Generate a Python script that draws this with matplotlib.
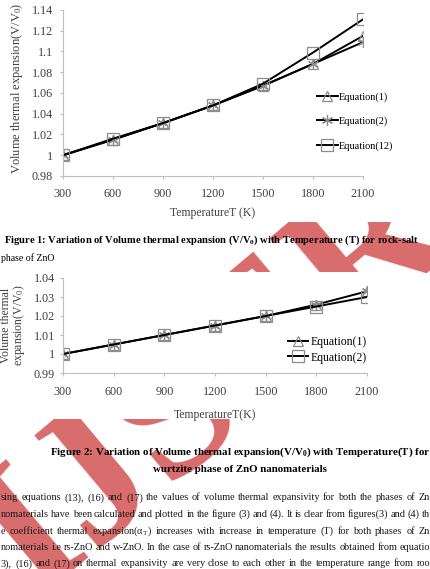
import matplotlib
matplotlib.use("Agg")
import matplotlib.pyplot as plt
from matplotlib.patches import Rectangle

plt.rcParams['font.family'] = ['Liberation Serif', 'DejaVu Serif']
plt.rcParams['mathtext.fontset'] = 'custom'
plt.rcParams['mathtext.rm'] = 'Liberation Serif'
plt.rcParams['mathtext.it'] = 'Liberation Serif:italic'
plt.rcParams['mathtext.bf'] = 'Liberation Serif:bold'

# data
temps = [300, 600, 900, 1200, 1500, 1800, 2100]

rs_eq1 = [1.000, 1.015, 1.031, 1.048, 1.067, 1.088, 1.115]
rs_eq2 = [1.000, 1.015, 1.031, 1.048, 1.067, 1.088, 1.109]
rs_eq12 = [1.000, 1.016, 1.031, 1.048, 1.069, 1.099, 1.131]

w_eq1 = [1.000, 1.005, 1.010, 1.015, 1.020, 1.026, 1.033]
w_eq2 = [1.000, 1.005, 1.010, 1.015, 1.020, 1.025, 1.030]

rs_yticks = [0.98, 1.0, 1.02, 1.04, 1.06, 1.08, 1.1, 1.12, 1.14]
rs_ylabels = ['0.98', '1', '1.02', '1.04', '1.06', '1.08', '1.1', '1.12', '1.14']
w_yticks = [0.99, 1.0, 1.01, 1.02, 1.03, 1.04]
w_ylabels = ['0.99', '1', '1.01', '1.02', '1.03', '1.04']

para_lines = [
    "sing equations (13), (16) and (17) the values of volume thermal expansivity for both the phases of Zn",
    "nomaterials have been calculated and plotted in the figure (3) and (4). It is clear from figures(3) and (4) th",
    "e coefficient thermal expansion(\u03b1$_\\mathrm{T}$) increases with increase in temperature (T) for both phases of Zn",
    "nomaterials i.e rs-ZnO and w-ZnO. In the case of rs-ZnO nanomaterials the results obtained from equatio",
    "3), (16) and (17) on thermal expansivity are very close to each other in the temperature range from roo",
]

W, H = 431, 569
fig = plt.figure(figsize=(W / 100, H / 100), dpi=100)


def fx(px):
    return px / W


def fy(py):
    return 1 - py / H


# watermark, partly hidden behind the chart pictures
fig.text(fx(215), fy(385), 'IJSER', fontsize=140, rotation=40, color='#d96b6b',
         weight='bold', ha='center', va='center', zorder=-3)
fig.patches.append(Rectangle((0, fy(222)), fx(398), 1 - fy(222), transform=fig.transFigure,
                             facecolor='white', edgecolor='none', zorder=-2))
fig.patches.append(Rectangle((0, fy(419)), fx(405), fy(272) - fy(419), transform=fig.transFigure,
                             facecolor='white', edgecolor='none', zorder=-2))

grey = '#bfbfbf'
txt = '#404040'
mk = '#8c8c8c'


def style_axes(ax, xpad, ypad):
    for s in ['top', 'right']:
        ax.spines[s].set_visible(False)
    for s in ['left', 'bottom']:
        ax.spines[s].set_color(grey)
        ax.spines[s].set_linewidth(0.8)
    ax.tick_params(axis='x', direction='out', length=2.2, color=grey, labelsize=8.7,
                   labelcolor=txt, pad=xpad)
    ax.tick_params(axis='y', direction='out', length=2.2, color=grey, labelsize=8.7,
                   labelcolor=txt, pad=ypad)
    ax.set_facecolor('none')


# Figure 1: rock-salt
ax1 = fig.add_axes([fx(63), fy(176), fx(300), fy(10) - fy(176)])
ax1.plot(temps, rs_eq1, color='black', lw=1.4, marker='^', ms=7, mfc='none', mec=mk, mew=0.9,
         label='Equation(1)')
ax1.plot(temps, rs_eq2, color='black', lw=1.4, marker=(6, 2, 0), ms=8, mec=mk, mew=0.9,
         label='Equation(2)')
ax1.plot(temps, rs_eq12, color='black', lw=1.4, marker='s', ms=8, mfc='none', mec=mk, mew=0.9,
         label='Equation(12)')
ax1.set_xlim(300, 2100)
ax1.set_ylim(0.98, 1.14)
ax1.set_xticks(temps)
ax1.set_yticks(rs_yticks)
ax1.set_yticklabels(rs_ylabels)
style_axes(ax1, 6.5, 5)
ax1.set_xlabel('TemperatureT (K)', fontsize=8.5, color=txt, va='center')
ax1.xaxis.set_label_coords(0.5, -0.223)
ax1.set_ylabel('Volume thermal expansion(V/V$_0$)', fontsize=9, color=txt, va='center')
ax1.yaxis.set_label_coords(-0.153, 0.53)
ax1.legend(loc='upper left', bbox_to_anchor=(fx(317), fy(92)), bbox_transform=fig.transFigure,
           frameon=False, fontsize=7.4, borderpad=0, borderaxespad=0, handlelength=2.0,
           handletextpad=0.1, labelspacing=1.45)

# Figure 2: wurtzite
ax2 = fig.add_axes([fx(63), fy(373), fx(304), fy(278) - fy(373)])
ax2.plot(temps, w_eq1, color='black', lw=1.4, marker='^', ms=7, mfc='none', mec=mk, mew=0.9,
         label='Equation(1)')
ax2.plot(temps, w_eq1, linestyle='none', marker=(6, 2, 0), ms=8, mec=mk, mew=0.9)
ax2.plot(temps, w_eq2, color='black', lw=1.4, marker='s', ms=8, mfc='none', mec=mk, mew=0.9,
         label='Equation(2)')
ax2.set_xlim(300, 2100)
ax2.set_ylim(0.99, 1.04)
ax2.set_xticks(temps)
ax2.set_yticks(w_yticks)
ax2.set_yticklabels(w_ylabels)
style_axes(ax2, 7, 3.6)
ax2.set_xlabel('TemperatureT(K)', fontsize=8.5, color=txt, va='center')
ax2.xaxis.set_label_coords(0.5, -0.44)
ax2.set_ylabel('Volume thermal\nexpansion(V/V$_0$)', fontsize=8.5, color=txt, va='center',
               linespacing=0.95)
ax2.yaxis.set_label_coords(-0.162, 0.5)
ax2.legend(loc='upper left', bbox_to_anchor=(fx(288), fy(336)), bbox_transform=fig.transFigure,
           frameon=False, fontsize=8.5, borderpad=0, borderaxespad=0, handlelength=1.7,
           handletextpad=0.25, labelspacing=0.3)

# captions
fig.text(fx(4), fy(240), 'Figure 1: Variation of Volume thermal expansion (V/V$_\\mathbf{0}$) with '
         'Temperature (T) for rock-salt', fontsize=7.6, weight='bold', va='center')
fig.text(fx(1), fy(258), 'phase of ZnO', fontsize=7, va='center')
fig.text(fx(50), fy(452), 'Figure 2: Variation of Volume thermal expansion(V/V$_\\mathbf{0}$) with '
         'Temperature(T) for', fontsize=7.8, weight='bold', va='center')
fig.text(fx(240), fy(470), 'wurtzite phase of ZnO nanomaterials', fontsize=7.8, weight='bold',
         ha='center', va='center')

# justified body text
renderer = fig.canvas.get_renderer()
line_y = [498, 514.5, 531, 547.5, 564]
for line, py in zip(para_lines, line_y):
    words = line.split(' ')
    items = [fig.text(0, fy(py), w, fontsize=7.4, color='#1a1a1a', va='center') for w in words]
    widths = [t.get_window_extent(renderer).width for t in items]
    left, right = 1, 430
    gap = (right - left - sum(widths)) / (len(words) - 1)
    gap = max(gap, 1.8)
    x = left
    for t, wdt in zip(items, widths):
        t.set_x(fx(x))
        x += wdt + gap

fig.savefig('out.png', dpi=100)
